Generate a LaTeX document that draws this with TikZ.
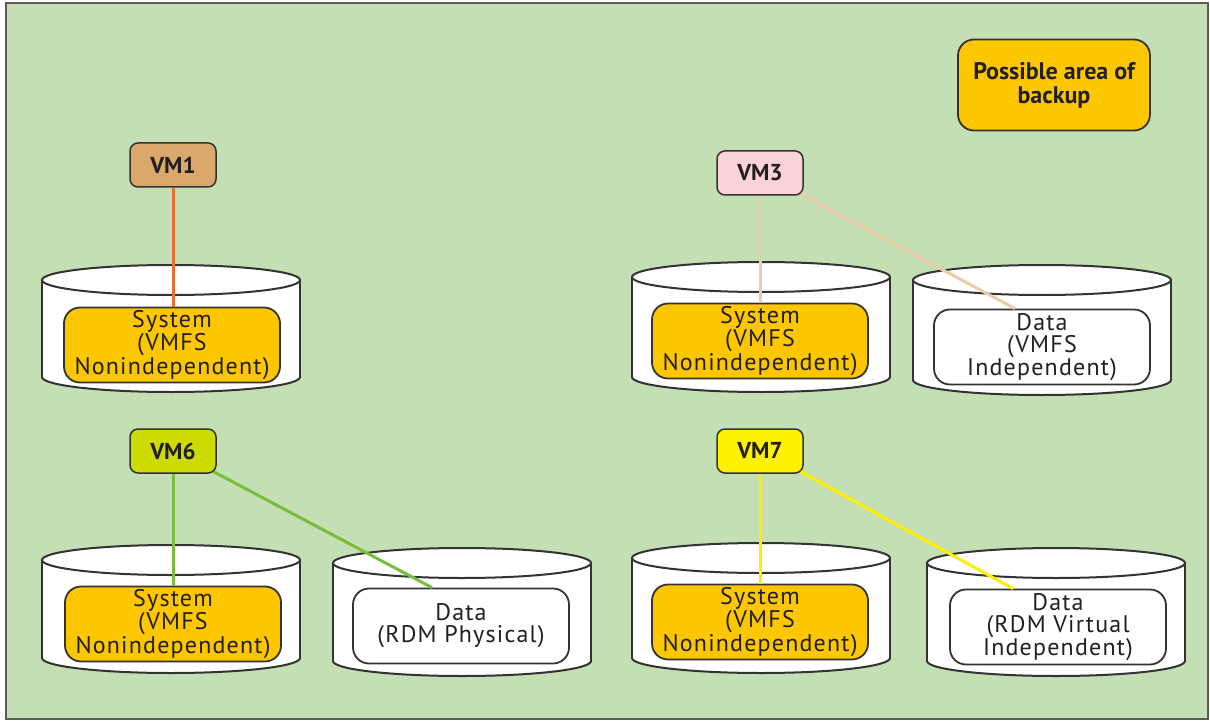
\documentclass[tikz,border=0pt]{standalone}
\usepackage{fontspec}
\setmainfont{PT Sans}
\usetikzlibrary{positioning}
\definecolor{bggreen}{HTML}{C3DFB3}
\definecolor{backup}{HTML}{FDC700}
\definecolor{vmtan}{HTML}{D9A86A}
\definecolor{vmpink}{HTML}{FAD2D8}
\definecolor{vmlime}{HTML}{CCDB00}
\definecolor{vmyellow}{HTML}{FFF200}
\definecolor{lnorange}{HTML}{E8702A}
\definecolor{lntan}{HTML}{EBCCA8}
\definecolor{lngreen}{HTML}{78BE3C}
\definecolor{lnyellow}{HTML}{FFEE00}
\definecolor{edge}{HTML}{333333}
\definecolor{ink}{HTML}{231F20}
\tikzset{
  vmbox/.style={draw=edge, line width=1.5pt, rounded corners=8pt, minimum width=86pt, minimum height=44pt, inner sep=0pt, text=ink, font=\fontsize{23}{23}\selectfont\bfseries},
  diskbox/.style={draw=edge, line width=1.8pt, rounded corners=16pt, minimum width=216pt, minimum height=75pt, inner sep=0pt, align=center, text=ink, font=\fontsize{24}{22}\selectfont\addfontfeatures{LetterSpace=5}},
  link/.style={line width=3pt}
}
\newcommand{\drum}[3]{%
  \draw[draw=edge, fill=white, line width=2pt] (#1,#3) ellipse [x radius=129, y radius=15];
  \fill[white] (#1-129,#2) rectangle (#1+129,#3);
  \draw[edge, line width=2pt] (#1-129,#2) -- (#1-129,#3) (#1+129,#2) -- (#1+129,#3);
  \draw[draw=edge, fill=white, line width=2pt] (#1,#2) ellipse [x radius=129, y radius=15];
}
\begin{document}
\begin{tikzpicture}[x=1pt,y=-1pt]
\useasboundingbox (0,0) rectangle (1210,722);
\draw[fill=bggreen, draw=edge!80, line width=2pt] (6,3) rectangle (1208,719);

\node[diskbox, fill=backup, minimum width=192pt, minimum height=91pt, font=\fontsize{24}{24}\selectfont\bfseries] (legend) at (1054,85) {Possible area of\\backup};

\drum{171}{280}{377}
\drum{761}{277}{377}
\drum{1042}{280}{380}
\drum{171}{560}{658}
\drum{462}{563}{661}
\drum{761}{558}{658}
\drum{1056}{563}{661}

\node[diskbox, fill=backup] (sys1) at (172,345) {System\\(VMFS\\Nonindependent)};
\node[diskbox, fill=backup] (sys3) at (760,341) {System\\(VMFS\\Nonindependent)};
\node[diskbox, fill=white] (data3) at (1042,347) {Data\\(VMFS\\Independent)};
\node[diskbox, fill=backup] (sys6) at (173,624) {System\\(VMFS\\Nonindependent)};
\node[diskbox, fill=white] (data6) at (461,626) {Data\\(RDM Physical)};
\node[diskbox, fill=backup] (sys7) at (760,622) {System\\(VMFS\\Nonindependent)};
\node[diskbox, fill=white] (data7) at (1058,627) {Data\\(RDM Virtual\\Independent)};

\node[vmbox, fill=vmtan] (vm1) at (173,165) {VM1};
\node[vmbox, fill=vmpink] (vm3) at (760,173) {VM3};
\node[vmbox, fill=vmlime] (vm6) at (173,451) {VM6};
\node[vmbox, fill=vmyellow] (vm7) at (760,451) {VM7};

\draw[link, lnorange] (vm1.south) -- (vm1.south |- sys1.north);
\draw[link, lntan] (vm3.south) -- (vm3.south |- sys3.north);
\draw[link, lntan] ([xshift=-3pt,yshift=2pt]vm3.south east) -- ([xshift=-27pt]data3.north);
\draw[link, lngreen] (vm6.south) -- (vm6.south |- sys6.north);
\draw[link, lngreen] ([xshift=-3pt,yshift=2pt]vm6.south east) -- ([xshift=-29pt]data6.north);
\draw[link, lnyellow] (vm7.south) -- (vm7.south |- sys7.north);
\draw[link, lnyellow] ([xshift=-3pt,yshift=2pt]vm7.south east) -- ([xshift=-45pt]data7.north);
\end{tikzpicture}
\end{document}
